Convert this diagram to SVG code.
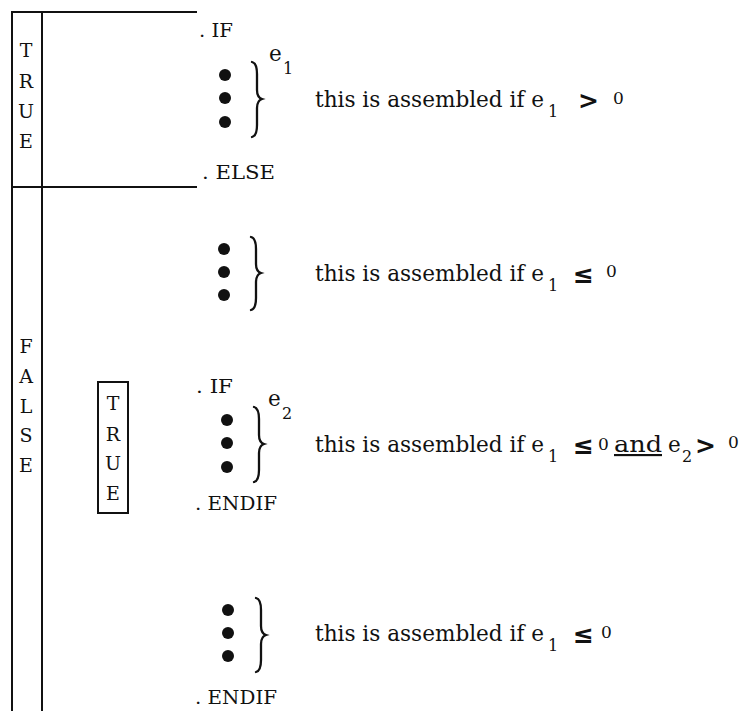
<svg xmlns="http://www.w3.org/2000/svg" width="739" height="711" viewBox="0 0 739 711">
<style>
.ln{stroke:#111;stroke-width:2;fill:none}
.br{stroke:#111;stroke-width:2.3;fill:none;stroke-linecap:round}
.lab{font-family:"DejaVu Serif","Liberation Serif",serif;font-size:19px;fill:#111;text-anchor:middle}
.dir{font-family:"DejaVu Serif","Liberation Serif",serif;font-size:18px;fill:#111}
.t{font-family:"DejaVu Serif","Liberation Serif",serif;font-size:21.5px;fill:#111}
.sub{font-family:"DejaVu Serif","Liberation Serif",serif;font-size:16px;fill:#111}
.sm{font-family:"DejaVu Serif","Liberation Serif",serif;font-size:17px;fill:#111}
.op{font-family:"DejaVu Sans","Liberation Sans",sans-serif;font-size:25px;font-weight:bold;fill:#111}
.und{text-decoration:underline;text-decoration-thickness:1px}
.dot{fill:#111}
</style>
<rect width="739" height="711" fill="#fff"/>
<g id="frame">
<line class="ln" x1="11" y1="12" x2="197" y2="12"/>
<line class="ln" x1="11" y1="187" x2="197" y2="187" stroke-width="1.6"/>
<line class="ln" x1="12" y1="11" x2="12" y2="711" stroke-width="1.6"/>
<line class="ln" x1="42" y1="11" x2="42" y2="711"/>
</g>
<g id="true-outer">
<text class="lab" x="26" y="57">T</text>
<text class="lab" x="26" y="88">R</text>
<text class="lab" x="26" y="118">U</text>
<text class="lab" x="26" y="148">E</text>
</g>
<g id="false-outer">
<text class="lab" x="26" y="353">F</text>
<text class="lab" x="26" y="383">A</text>
<text class="lab" x="26" y="413">L</text>
<text class="lab" x="26" y="442">S</text>
<text class="lab" x="26" y="472">E</text>
</g>
<g id="true-inner">
<rect x="98" y="382" width="30" height="131" class="ln" stroke-width="1.6"/>
<text class="lab" x="113" y="410">T</text>
<text class="lab" x="113" y="441">R</text>
<text class="lab" x="113" y="470">U</text>
<text class="lab" x="113" y="500">E</text>
</g>
<g id="sec1">
<text class="dir" x="199" y="37" textLength="34" lengthAdjust="spacingAndGlyphs">. IF</text>
<circle class="dot" cx="225" cy="75" r="6"/>
<circle class="dot" cx="225" cy="98" r="6"/>
<circle class="dot" cx="225" cy="122" r="6"/>
<path class="br" d="M252,62 C256,63 257,67 257,74 L257,90 C257,95 259,98 262,99 C259,100 257,103 257,108 L257,125 C257,132 256,136 252,137"/>
<text class="t" x="269" y="61">e</text>
<text class="sub" x="283" y="74">1</text>
<text class="t" x="315" y="107" textLength="229" lengthAdjust="spacingAndGlyphs">this is assembled if e</text>
<text class="sub" x="548" y="117">1</text>
<text class="op" x="578" y="109">&gt;</text>
<text class="sm" x="613" y="104">0</text>
<text class="dir" x="202" y="179" textLength="73" lengthAdjust="spacingAndGlyphs">. ELSE</text>
</g>
<g id="sec2">
<circle class="dot" cx="224" cy="249" r="6"/>
<circle class="dot" cx="224" cy="272" r="6"/>
<circle class="dot" cx="224" cy="295" r="6"/>
<path class="br" d="M251,237 C255,238 256,242 256,249 L256,264 C256,269 258,272 261,273 C258,274 256,277 256,282 L256,298 C256,305 255,309 251,310"/>
<text class="t" x="315" y="281" textLength="229" lengthAdjust="spacingAndGlyphs">this is assembled if e</text>
<text class="sub" x="548" y="291">1</text>
<text class="op" x="573" y="283">≤</text>
<text class="sm" x="606" y="277">0</text>
</g>
<g id="sec3">
<text class="dir" x="196" y="393" textLength="37" lengthAdjust="spacingAndGlyphs">. IF</text>
<circle class="dot" cx="227" cy="420" r="6"/>
<circle class="dot" cx="227" cy="443" r="6"/>
<circle class="dot" cx="227" cy="467" r="6"/>
<path class="br" d="M254,407 C258,408 259,412 259,419 L259,435 C259,440 261,443 264,444 C261,445 259,448 259,453 L259,470 C259,477 258,481 254,482"/>
<text class="t" x="268" y="406">e</text>
<text class="sub" x="282" y="419">2</text>
<text class="t" x="315" y="452" textLength="229" lengthAdjust="spacingAndGlyphs">this is assembled if e</text>
<text class="sub" x="548" y="462">1</text>
<text class="op" x="573" y="454">≤</text>
<text class="sm" x="598" y="450">0</text>
<text class="t und" x="614" y="452" textLength="48" lengthAdjust="spacingAndGlyphs">and</text>
<text class="t" x="668" y="452">e</text>
<text class="sub" x="682" y="462">2</text>
<text class="op" x="695" y="454">&gt;</text>
<text class="sm" x="728" y="448">0</text>
<text class="dir" x="195" y="510" textLength="82" lengthAdjust="spacingAndGlyphs">. ENDIF</text>
</g>
<g id="sec4">
<circle class="dot" cx="228" cy="610" r="6"/>
<circle class="dot" cx="228" cy="633" r="6"/>
<circle class="dot" cx="228" cy="656" r="6"/>
<path class="br" d="M256,598 C260,599 261,603 261,610 L261,626 C261,631 263,634 266,635 C263,636 261,639 261,644 L261,660 C261,667 260,671 256,672"/>
<text class="t" x="315" y="641" textLength="229" lengthAdjust="spacingAndGlyphs">this is assembled if e</text>
<text class="sub" x="548" y="651">1</text>
<text class="op" x="573" y="643">≤</text>
<text class="sm" x="601" y="638">0</text>
<text class="dir" x="195" y="704" textLength="82" lengthAdjust="spacingAndGlyphs">. ENDIF</text>
</g>
</svg>
